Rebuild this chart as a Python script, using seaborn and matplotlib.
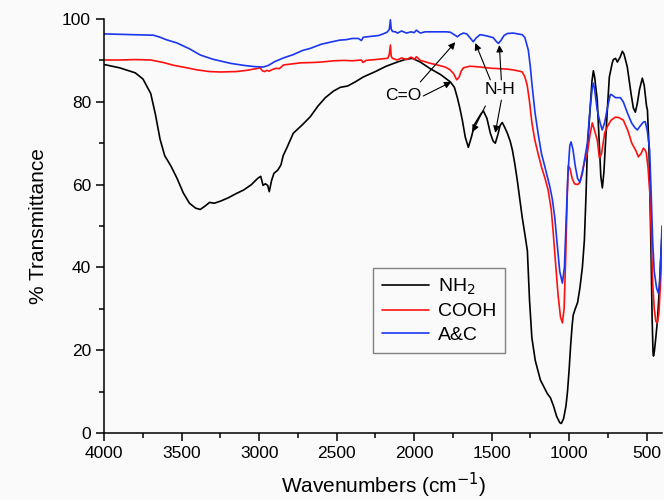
import matplotlib
matplotlib.use("Agg")
import matplotlib.pyplot as plt
import seaborn as sns
from matplotlib.ticker import MultipleLocator

# FTIR spectra: wavenumber (cm-1) and % transmittance
nh2_wn = [4000, 3900, 3800, 3750, 3700, 3670, 3640, 3610, 3570, 3530, 3490, 3450, 3410, 3380,
          3350, 3320, 3290, 3250, 3200, 3150, 3100, 3050, 3010, 2990, 2975, 2960, 2945, 2935,
          2920, 2905, 2880, 2860, 2845, 2820, 2780, 2720, 2670, 2620, 2573, 2520, 2476, 2430,
          2380, 2328, 2250, 2180, 2108, 2060, 2012, 1960, 1896, 1830, 1766, 1740, 1721, 1705,
          1689, 1670, 1650, 1630, 1610, 1592, 1570, 1553, 1530, 1508, 1490, 1476, 1460, 1445,
          1431, 1415, 1398, 1380, 1366, 1350, 1334, 1318, 1302, 1285, 1269, 1255, 1240, 1218,
          1185, 1140, 1120, 1100, 1080, 1060, 1050, 1035, 1020, 1010, 1000, 990, 980, 973,
          960, 945, 930, 914, 901, 890, 882, 870, 863, 852, 843, 835, 818, 805, 795, 785,
          775, 765, 753, 740, 721, 714, 700, 688, 670, 656, 645, 624, 600, 585, 572, 560,
          545, 527, 515, 500, 494, 485, 478, 470, 464, 458, 455, 450, 440, 430, 420, 410, 400]
nh2_t = [89, 88.2, 87, 85.5, 82, 77, 71, 67, 64.5, 61.5, 58, 55.5, 54.3, 54,
         54.8, 55.7, 55.5, 56, 56.8, 57.8, 58.7, 60, 61.5, 62, 59.8, 60.2, 59.8, 58.3,
         61, 62.7, 63.5, 64.7, 67, 69, 72.4, 74.5, 76.4, 79, 81, 82.6, 83.5, 83.8,
         84.8, 86, 87.3, 88.6, 89.6, 90.2, 90.5, 89.6, 88, 86.6, 84.8, 83.5, 81, 78.5,
         75.6, 71.5, 69, 71.5, 74.5, 75.6, 77, 77.8, 76, 72.4, 70.5, 70, 72, 74.3,
         75, 73.8, 72.4, 70.5, 68.4, 65, 61, 56.5, 52, 48, 44, 32, 23, 17.5,
         12.8, 9.5, 8.5, 6.5, 4, 2.5, 2.3, 3.5, 6.5, 10, 15, 21, 26, 28.5,
         30, 31.5, 35, 40, 46.6, 58, 68.4, 75, 79, 85, 87.5, 86, 80.4, 70, 62, 59.2,
         63, 70, 78, 86, 89.4, 90.2, 90.5, 89.6, 90.8, 92.2, 91.5, 88.4, 82, 78.5, 77.5, 79.5,
         83, 85.7, 84, 79, 78, 70, 58, 42, 28, 19.5, 18.6, 19.5, 23, 27, 33, 41, 48]

cooh_wn = [4000, 3900, 3800, 3700, 3620, 3550, 3465, 3400, 3320, 3251, 3150, 3080, 3020, 2993,
           2980, 2965, 2950, 2935, 2915, 2890, 2870, 2843, 2800, 2735, 2650, 2600, 2520, 2450,
           2400, 2340, 2330, 2310, 2250, 2200, 2170, 2160, 2153, 2148, 2140, 2110, 2080, 2050,
           2020, 1997, 1985, 1960, 1940, 1896, 1850, 1800, 1770, 1745, 1725, 1710, 1695, 1682,
           1640, 1573, 1500, 1450, 1400, 1360, 1320, 1302, 1285, 1270, 1255, 1240, 1221, 1200,
           1178, 1155, 1135, 1115, 1102, 1085, 1070, 1055, 1043, 1032, 1022, 1012, 1005, 995,
           980, 965, 945, 930, 915, 900, 882, 865, 850, 835, 818, 804, 790, 770, 753, 730,
           701, 680, 650, 620, 595, 566, 553, 535, 520, 508, 501, 490, 475, 468, 460, 450,
           440, 430, 420, 410, 400]
cooh_t = [90.1, 90.1, 90.2, 90.1, 89.5, 88.8, 88.2, 87.7, 87.3, 87.2, 87.3, 87.6, 88, 88.2,
          87.5, 87.3, 87.6, 87.4, 87.8, 88.1, 88, 88.9, 89.1, 89.4, 89.5, 89.6, 89.9, 90,
          89.9, 90.1, 89.5, 90, 90.2, 90.4, 90.5, 91.5, 93.7, 91, 90.5, 90.1, 90.6, 90.2,
          90.8, 90.3, 90.9, 90, 89.8, 89.3, 88.9, 88.4, 87.8, 86.8, 85.3, 85.9, 87.5, 88.2,
          88.6, 88.4, 88.1, 88, 87.9, 87.7, 87.4, 87.2, 86, 84, 80, 75, 70.8, 67.5,
          64.3, 61.5, 58.7, 54, 48.3, 40, 33, 28, 26.6, 30, 42, 57, 64.5, 64,
          61.5, 60.2, 60, 60.5, 63, 65.5, 67.6, 72, 74.9, 73, 70.8, 66.4, 67.5, 72.5, 74, 75.5,
          76.3, 76.2, 75.6, 73, 70, 68, 66.7, 67.5, 68.8, 68.3, 67.6, 64, 56, 46, 36, 30,
          27, 26.6, 29, 36, 44]

ac_wn = [4000, 3900, 3800, 3700, 3684, 3640, 3600, 3530, 3450, 3380, 3300, 3187, 3100, 3030,
         2973, 2940, 2900, 2843, 2780, 2720, 2670, 2600, 2541, 2480, 2440, 2400, 2360, 2340,
         2328, 2280, 2230, 2200, 2175, 2160, 2153, 2148, 2140, 2120, 2108, 2080, 2050, 2020,
         2000, 1985, 1960, 1930, 1896, 1830, 1790, 1766, 1740, 1721, 1705, 1682, 1660, 1640,
         1618, 1600, 1575, 1553, 1520, 1490, 1470, 1456, 1440, 1420, 1398, 1360, 1330, 1302,
         1285, 1263, 1250, 1240, 1220, 1200, 1178, 1156, 1124, 1108, 1092, 1075, 1060, 1043,
         1030, 1020, 1008, 995, 987, 975, 960, 945, 930, 915, 900, 882, 865, 850, 843, 835,
         818, 800, 786, 770, 750, 733, 721, 700, 669, 650, 620, 595, 574, 559, 540, 520,
         508, 495, 480, 470, 460, 450, 435, 424, 415, 408, 400]
ac_t = [96.4, 96.3, 96.2, 96.1, 96.1, 95.6, 95, 94.2, 92.8, 91.3, 90.3, 89.3, 88.8, 88.5,
        88.4, 88.8, 89.7, 90.6, 91.4, 92.4, 92.9, 93.9, 94.4, 94.9, 95, 95.3, 95.3, 94.8,
        95.6, 95.8, 96, 96.4, 96.8, 97.5, 99.8, 97.6, 97, 96.9, 96.6, 97.1, 96.6, 96.9,
        96.7, 97.3, 96.6, 96.9, 96.9, 96.9, 96.9, 96.8, 96.2, 95.7, 96.2, 96.6, 96.4, 95.5,
        94.5, 95.4, 96.2, 96.1, 95.8, 95.5, 94.6, 94.1, 94.8, 96, 96.5, 96.6, 96.4, 96.2,
        95.5, 92.5, 88.5, 84.5, 77.5, 72.4, 67.5, 64.3, 59.5, 56.5, 52, 45, 39, 36.2,
        40, 50, 62, 69.5, 70.3, 68.5, 64.5, 61.5, 60.6, 62.5, 66, 70, 78, 83.5, 84.5, 83,
        78, 75, 73.2, 75, 79, 81.8, 81.6, 81, 81, 80, 77, 74.8, 73.7, 73.2, 74.2, 75.1,
        75.2, 73, 68.4, 58, 46, 39, 35, 33.8, 36, 42, 50]

series = [("NH$_2$", nh2_wn, nh2_t, "black"),
          ("COOH", cooh_wn, cooh_t, "#ff1010"),
          ("A&C", ac_wn, ac_t, "#1a36ee")]

sns.set_theme(style="ticks")
plt.rcParams['font.family'] = ['Liberation Sans', 'DejaVu Sans']
plt.rcParams['text.color'] = 'black'
plt.rcParams['axes.labelcolor'] = 'black'
bg = "#fafafa"

fig = plt.figure(figsize=(6.64, 5), dpi=100, facecolor=bg)
ax = fig.add_axes([0.157, 0.134, 0.84, 0.828], facecolor=bg)

for name, wn, t, col in series:
    sns.lineplot(x=wn, y=t, ax=ax, color=col, lw=1.2, label=name, estimator=None)

ax.set_xlim(4000, 400)
ax.set_ylim(0, 100)
ax.xaxis.set_major_locator(MultipleLocator(500))
ax.xaxis.set_minor_locator(MultipleLocator(250))
ax.yaxis.set_major_locator(MultipleLocator(20))
ax.yaxis.set_minor_locator(MultipleLocator(10))
ax.tick_params(which="major", direction="out", length=6, width=1.1, labelsize=12.5,
               colors="black")
ax.tick_params(which="minor", direction="out", length=3.5, width=1.1, colors="black")
sns.despine(ax=ax)
for s in ["left", "bottom"]:
    ax.spines[s].set_linewidth(1.1)
    ax.spines[s].set_color("black")

ax.set_xlabel("Wavenumbers (cm$^{-1}$)", fontsize=15, labelpad=7)
ax.set_ylabel("% Transmittance", fontsize=15, labelpad=10)

# peak labels with arrows
arrow = dict(arrowstyle="-|>", color="black", lw=0.8, mutation_scale=10, shrinkA=0, shrinkB=0)
ax.text(2073, 81.6, "C=O", fontsize=12.5, ha="center", va="center")
ax.annotate("", xy=(1734, 94.4), xytext=(1960, 84.8), arrowprops=arrow)
ax.annotate("", xy=(1760, 84.8), xytext=(1941, 81.4), arrowprops=arrow)
ax.text(1443, 82.9, "N-H", fontsize=12.5, ha="center", va="center")
ax.annotate("", xy=(1605, 94.2), xytext=(1508, 85.3), arrowprops=arrow)
ax.annotate("", xy=(1450, 93.7), xytext=(1437, 85.3), arrowprops=arrow)
ax.annotate("", xy=(1624, 72.7), xytext=(1540, 79.0), arrowprops=arrow)
ax.annotate("", xy=(1476, 72.5), xytext=(1437, 80.4), arrowprops=arrow)

leg = ax.legend(loc="upper left", bbox_to_anchor=(0.482, 0.399), borderaxespad=0,
                frameon=True, fancybox=False, edgecolor="gray", fontsize=14,
                handlelength=2.4, borderpad=0.45, labelspacing=0.3, handletextpad=0.5)
leg.get_frame().set_facecolor(bg)
leg.get_frame().set_alpha(1)

fig.savefig("out.png", dpi=100, facecolor=bg)
